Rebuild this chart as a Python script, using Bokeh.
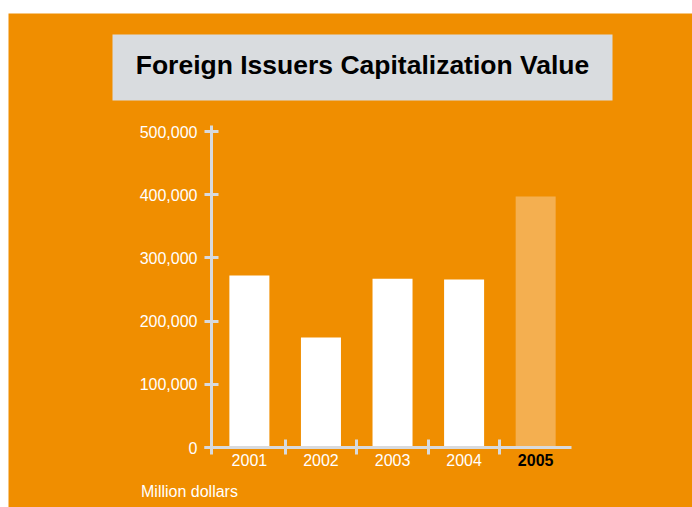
from bokeh.plotting import figure
from bokeh.models import (Range1d, FixedTicker, ColumnDataSource,
                          NumeralTickFormatter, Spacer)
from bokeh.layouts import column, row
from bokeh.core.properties import value
from bokeh.embed import file_html
from bokeh.resources import INLINE

# ---- data ----
years = ["2001", "2002", "2003", "2004", "2005"]
values = [272000, 174000, 267000, 266000, 397000]
y_ticks = [0, 100000, 200000, 300000, 400000, 500000]
title_text = "Foreign Issuers Capitalization Value"
unit_text = "Million dollars"

# ---- styles ----
ORANGE = "#f08e00"
AXIS = "#d8dadd"
BOX = "#d9dcdf"
HILITE = "#f4af50"
FONT = "Liberation Sans"

W, H = 684, 494          # figure size (page offset 8, 13)
OX, OY = 8, 13
# pixel <-> data helpers (layout only)
X0_PX, X_UNIT = 213.1, 71.57          # page px of x=0, px per category
Y0_PX, Y_UNIT = 447.0, 316.0 / 500000  # page px of y=0, px per value unit


def dx(px):
    return (px - X0_PX) / X_UNIT


def dy(py):
    return (Y0_PX - py) / Y_UNIT


n = len(years)
xs = [i + 0.5 for i in range(n)]
bar_colors = ["#ffffff"] * (n - 1) + [HILITE]
lab_colors = ["#ffffff"] * (n - 1) + ["#000000"]
lab_styles = ["normal"] * (n - 1) + ["bold"]

src = ColumnDataSource(dict(x=xs, top=values, year=years, color=bar_colors,
                            lcolor=lab_colors, lstyle=lab_styles,
                            ly=[dy(459.5)] * n))

p = figure(frame_width=W, frame_height=H,
           x_range=Range1d(dx(OX), dx(OX + W)),
           y_range=Range1d(dy(OY + H), dy(OY)),
           output_backend="svg", toolbar_location=None, min_border=0,
           background_fill_color=ORANGE, border_fill_color=ORANGE,
           outline_line_color=None)
p.grid.visible = False

# y axis
ya = p.yaxis[0]
ya.fixed_location = dx(211)
ya.bounds = (dy(454), dy(125))
ya.ticker = FixedTicker(ticks=y_ticks)
ya.formatter = NumeralTickFormatter(format="0,0")
ya.axis_line_width = 3
ya.axis_line_color = AXIS
ya.major_tick_line_width = 3
ya.major_tick_line_color = AXIS
ya.major_tick_in = 7
ya.major_tick_out = 7
ya.minor_tick_line_color = None
ya.major_label_text_color = "#ffffff"
ya.major_label_text_font = FONT
ya.major_label_text_font_size = "16px"
ya.major_label_standoff = 7

# x axis (tick marks between categories)
xa = p.xaxis[0]
xa.fixed_location = 0
xa.bounds = (dx(204), n)
xa.ticker = FixedTicker(ticks=list(range(1, n)))
xa.axis_line_width = 3
xa.axis_line_color = AXIS
xa.major_tick_line_width = 3
xa.major_tick_line_color = AXIS
xa.major_tick_in = 8
xa.major_tick_out = 7
xa.minor_tick_line_color = None
xa.major_label_text_color = None
xa.major_label_text_font_size = "0px"

p.vbar(x="x", top="top", bottom=0, width=0.559, source=src,
       fill_color="color", line_color=None, level="underlay")

p.text(x="x", y="ly", text="year", source=src,
       text_align="center", text_baseline="alphabetic",
       text_color="lcolor", text_font_style="lstyle",
       text_font=value(FONT), text_font_size="16px")

# title box + title
p.quad(left=dx(112), right=dx(612), top=dy(34), bottom=dy(100),
       fill_color=BOX, line_color=None)
p.text(x=[dx(362)], y=[dy(64.5)], text=[title_text],
       text_align="center", text_baseline="middle",
       text_font=value(FONT), text_font_size="26.5px",
       text_font_style="bold", text_color="#000000")

p.text(x=[dx(140.5)], y=[dy(491)], text=[unit_text],
       text_align="left", text_baseline="alphabetic",
       text_font=value(FONT), text_font_size="16px",
       text_color="#ffffff")

layout = row(Spacer(width=OX, height=10),
             column(Spacer(height=OY, width=10), p, spacing=0),
             spacing=0)
open("out.html", "w").write(file_html(layout, INLINE))
